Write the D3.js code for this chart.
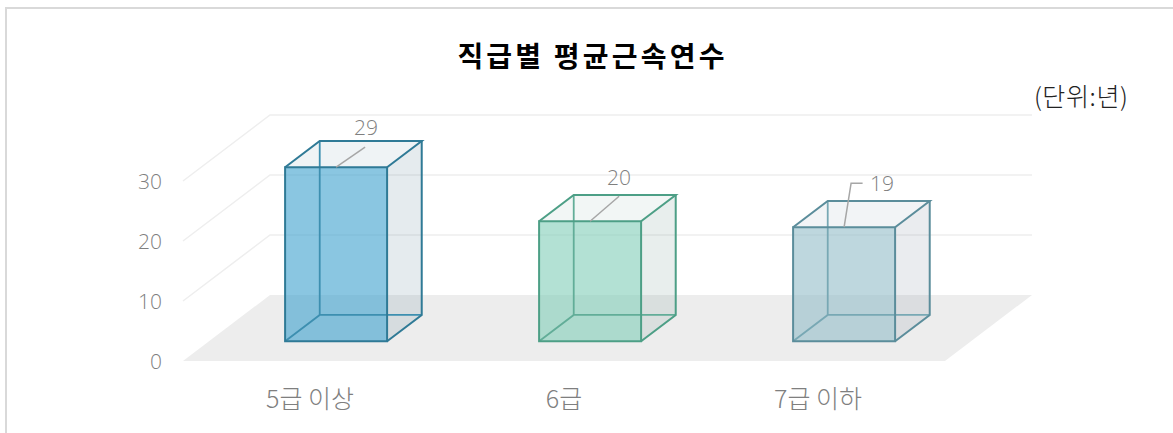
<!DOCTYPE html>
<html>
<head>
<meta charset="utf-8">
<script src="https://cdn.jsdelivr.net/npm/d3@7"></script>
<style>
body { margin: 0; background: #fff; }
text { font-family: "Noto Sans CJK KR", "Open Sans", sans-serif; }
</style>
</head>
<body>
<script>
// data
var categories = ["5급 이상", "6급", "7급 이하"]
var values = [29, 20, 19]
var yTicks = [0, 10, 20, 30]
var title = "직급별 평균근속연수"
var unit = "(단위:년)"

var width = 1173, height = 433

var edge = ["#2f7a96", "#4d9f86", "#5b8d9b"]
var inner = ["#3d8fb0", "#62ad98", "#78a8b4"]
var front = ["#3ca0cd", "#80cdb7", "#93bcc8"]
var lid = ["#dfe8ec", "#e6eeeb", "#e6e9ed"]
var side = ["#7f99a8", "#8caaa5", "#96a0af"]

var x = d3.scaleBand().domain(categories).range([183, 945])
var y = d3.scaleLinear().domain([0, 30]).range([361, 181])

// oblique projection, z 0 = front of floor, 1 = back wall
var dx = 87, dy = 66
var zFront = 0.3, zBack = 0.698
var barWidth = 102
function px(v, z) { return v + z * dx }
function py(v, z) { return y(v) - z * dy }

var svg = d3.select("body").append("svg")
	.attr("width", width)
	.attr("height", height)
	.style("display", "block")

// chart border, open on the right
svg.append("path")
	.attr("d", d3.line()([[6, height], [6, 8], [width, 8]]))
	.attr("fill", "none")
	.attr("stroke", "#d9d9d9")
	.attr("stroke-width", 2)

svg.append("text")
	.attr("x", 592.5).attr("y", 67)
	.attr("text-anchor", "middle")
	.attr("font-size", 28).attr("font-weight", 700)
	.attr("letter-spacing", 3.2)
	.attr("fill", "#000")
	.text(title)

svg.append("text")
	.attr("x", 1128.5).attr("y", 106)
	.attr("text-anchor", "end")
	.attr("font-size", 25)
	.attr("font-weight", 300)
	.attr("letter-spacing", 0.6)
	.attr("fill", "#222")
	.text(unit)

// floor
var x0 = x.range()[0], x1 = x.range()[1]
svg.append("path")
	.attr("d", d3.line()([[px(x0, 0), py(0, 0)], [px(x1, 0), py(0, 0)], [px(x1, 1), py(0, 1)], [px(x0, 1), py(0, 1)]]) + "Z")
	.attr("fill", "#ededed")

// grid lines, side wall then back wall
svg.append("g").selectAll("path")
	.data(yTicks.filter(d => d > 0))
	.join("path")
	.attr("d", d => d3.line()([[px(x0, 0), py(d, 0)], [px(x0, 1), py(d, 1)], [px(x1, 1), py(d, 1)]]))
	.attr("fill", "none")
	.attr("stroke", "#eeeeee")
	.attr("stroke-width", 1.5)

// y axis
var gy = svg.append("g")
	.attr("transform", "translate(170,0.5)")
	.call(d3.axisLeft(y).tickValues(yTicks).tickSize(0).tickPadding(8))
gy.select(".domain").remove()
gy.selectAll("text")
	.style("font-family", "'Open Sans', sans-serif")
	.attr("font-size", 21)
	.attr("font-weight", 300)
	.attr("fill", "#7f7f7f")

// x axis labels
svg.append("g").selectAll("text")
	.data(categories)
	.join("text")
	.attr("x", d => x(d) + x.bandwidth() / 2)
	.attr("y", 408)
	.attr("text-anchor", "middle")
	.attr("font-size", 25)
	.attr("font-weight", 300)
	.attr("fill", "#7f7f7f")
	.text(d => d)

// bars
var bars = svg.append("g").selectAll("g")
	.data(categories)
	.join("g")

function left(d) { return x(d) + x.bandwidth() / 2 - barWidth / 2 }

bars.each(function(d, i) {
	var g = d3.select(this)
	var v = values[i]
	var l = left(d), r = l + barWidth
	var line = d3.line()
	var p = (a, val, z) => [px(a, z), py(val, z)]

	// lid and right side, pale
	g.append("path")
		.attr("d", line([p(l, v, zFront), p(r, v, zFront), p(r, v, zBack), p(l, v, zBack)]) + "Z")
		.attr("fill", lid[i]).attr("fill-opacity", 0.5)
	g.append("path")
		.attr("d", line([p(r, 0, zFront), p(r, 0, zBack), p(r, v, zBack), p(r, v, zFront)]) + "Z")
		.attr("fill", side[i]).attr("fill-opacity", 0.2)

	// front face
	g.append("path")
		.attr("d", line([p(l, 0, zFront), p(r, 0, zFront), p(r, v, zFront), p(l, v, zFront)]) + "Z")
		.attr("fill", front[i]).attr("fill-opacity", 0.6)

	// back edges seen through the front
	g.append("path")
		.attr("d", line([p(l, 0, zFront), p(l, 0, zBack), p(r, 0, zBack)]))
		.attr("fill", "none").attr("stroke", inner[i]).attr("stroke-width", 1.8)
	g.append("path")
		.attr("d", line([p(l, 0, zBack), p(l, v, zBack)]))
		.attr("fill", "none").attr("stroke", inner[i]).attr("stroke-width", 1.8)

	// visible edges
	g.append("path")
		.attr("d", line([p(l, 0, zFront), p(r, 0, zFront), p(r, v, zFront), p(l, v, zFront)]) + "Z")
		.attr("fill", "none").attr("stroke", edge[i]).attr("stroke-width", 2)
	g.append("path")
		.attr("d", line([p(l, v, zFront), p(l, v, zBack), p(r, v, zBack), p(r, v, zFront)]))
		.attr("fill", "none").attr("stroke", edge[i]).attr("stroke-width", 2)
	g.append("path")
		.attr("d", line([p(r, v, zBack), p(r, 0, zBack), p(r, 0, zFront)]))
		.attr("fill", "none").attr("stroke", edge[i]).attr("stroke-width", 2)
})

// data labels with leader lines, offsets from top centre of the front face
var labelDx = [30, 29, 26]
var labelDy = [-40, -44, -43.5]
var leaderShape = [
	[[0, 0], [29, -20]],
	[[0, 0], [29, -25]],
	[[0, 0], [7, -44], [18.5, -44]]
]
bars.each(function(d, i) {
	var g = d3.select(this)
	var cx = px(left(d) + barWidth / 2, zFront)
	var top = py(values[i], zFront)
	g.append("path")
		.attr("d", d3.line()(leaderShape[i].map(a => [cx + a[0], top + a[1]])))
		.attr("fill", "none").attr("stroke", "#a6a6a6").attr("stroke-width", 1.5)
	g.append("text")
		.attr("x", cx + labelDx[i])
		.attr("y", top + labelDy[i])
		.attr("dy", "0.35em")
		.attr("text-anchor", i == 2 ? "start" : "middle")
		.style("font-family", "'Open Sans', sans-serif")
		.attr("font-size", 21)
		.attr("font-weight", 300)
		.attr("fill", "#7f7f7f")
		.text(values[i])
})
</script>
</body>
</html>
